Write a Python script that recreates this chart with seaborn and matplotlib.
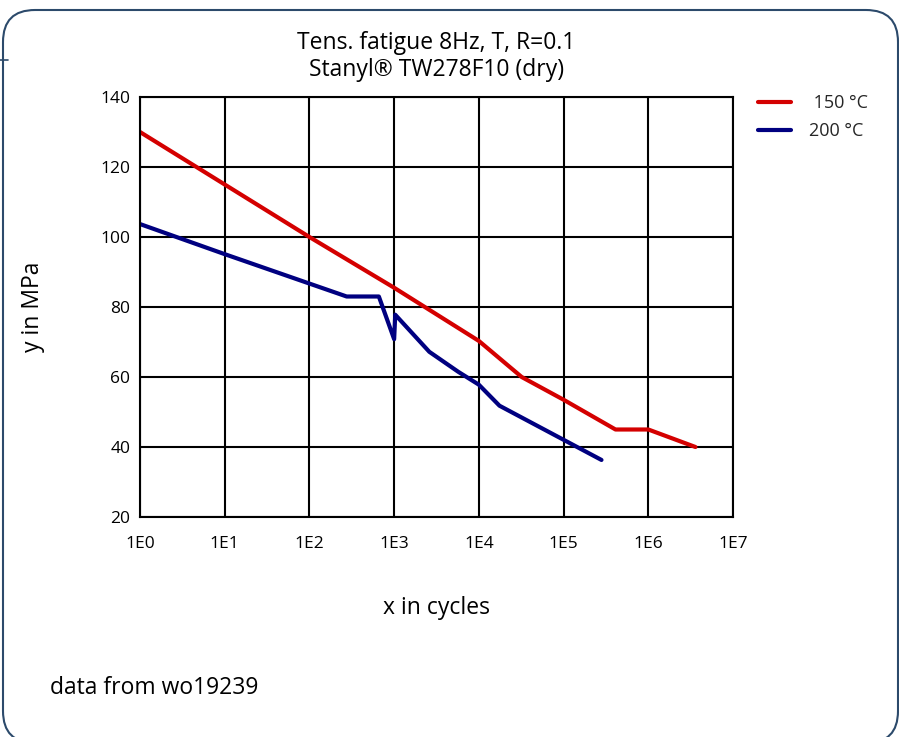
import numpy as np
import pandas as pd
import matplotlib
matplotlib.use("Agg")
import matplotlib.pyplot as plt
import seaborn as sns
from matplotlib.patches import FancyBboxPatch
from matplotlib.lines import Line2D

# =====================================================
# DATA
# =====================================================

cycles_150 = [1, 10, 100, 1000, 1e4, 3.2e4, 1e5, 4.1e5, 1e6, 3.6e6]
stress_150 = [130, 115, 100, 85.5, 70.3, 60, 53.5, 45, 45, 40]

cycles_200 = [1, 10, 275, 660, 1000, 1030, 2600, 5700, 1e4, 1.75e4, 2.8e5]
stress_200 = [103.7, 95.1, 83, 83, 70.8, 77.8, 67.2, 61.5, 57.8, 51.8, 36.3]

series_labels = [" 150 °C", "200 °C"]
series_colors = ["#D40000", "#000080"]

x_ticks = [10 ** k for k in range(8)]
x_tick_labels = [f"1E{k}" for k in range(8)]
y_ticks = [20, 40, 60, 80, 100, 120, 140]

df = pd.concat([
    pd.DataFrame({"cycles": cycles_150, "stress": stress_150, "temp": series_labels[0]}),
    pd.DataFrame({"cycles": cycles_200, "stress": stress_200, "temp": series_labels[1]}),
], ignore_index=True)

# =====================================================
# STYLE
# =====================================================

sns.set_theme(style="white")
plt.rcParams["font.family"] = ["Open Sans", "DejaVu Sans"]

fig = plt.figure(figsize=(8.99, 7.37), dpi=100)
ax = fig.add_axes([0.1557, 0.2985, 0.6597, 0.5699])

sns.lineplot(
    data=df,
    x="cycles",
    y="stress",
    hue="temp",
    palette=dict(zip(series_labels, series_colors)),
    sort=False,
    estimator=None,
    linewidth=3,
    ax=ax,
)

ax.set_xscale("log")
ax.set_xlim(1, 1e7)
ax.set_ylim(20, 140)
ax.set_xticks(x_ticks)
ax.set_xticklabels(x_tick_labels)
ax.xaxis.set_minor_locator(matplotlib.ticker.NullLocator())
ax.set_yticks(y_ticks)
ax.tick_params(axis="both", length=0, labelsize=12.5, colors="black")
ax.tick_params(axis="x", pad=14)
ax.tick_params(axis="y", pad=7)

ax.grid(True, color="black", linewidth=1.5)
ax.set_axisbelow(True)
for sp in ax.spines.values():
    sp.set_color("black")
    sp.set_linewidth(1.5)

ax.set_xlabel("x in cycles", fontsize=16.5, labelpad=31, color="black")
ax.set_ylabel("y in MPa", fontsize=16.5, labelpad=40, color="black")
ax.set_title("Tens. fatigue 8Hz, T, R=0.1\nStanyl® TW278F10 (dry)",
             fontsize=16.5, pad=15, color="black", linespacing=1.2)

ax.legend(
    loc="upper left",
    bbox_to_anchor=(1.015, 1.045),
    frameon=False,
    fontsize=13,
    handlelength=1.8,
    handletextpad=1.0,
    labelspacing=0.55,
)

fig.text(0.056, 0.058, "data from wo19239", fontsize=16.5, color="black")

# rounded outer frame (pixel coordinates)
frame = FancyBboxPatch(
    (3, -6), 895, 733,
    boxstyle="round,pad=0,rounding_size=32",
    transform=None, fill=False, edgecolor="#2C4A6B", linewidth=1.5,
)
fig.patches.append(frame)
fig.lines.append(Line2D([0, 0.009], [0.919, 0.919], transform=fig.transFigure,
                        color="#2C4A6B", linewidth=1.2))

fig.savefig("out.png", dpi=100)
plt.close(fig)
